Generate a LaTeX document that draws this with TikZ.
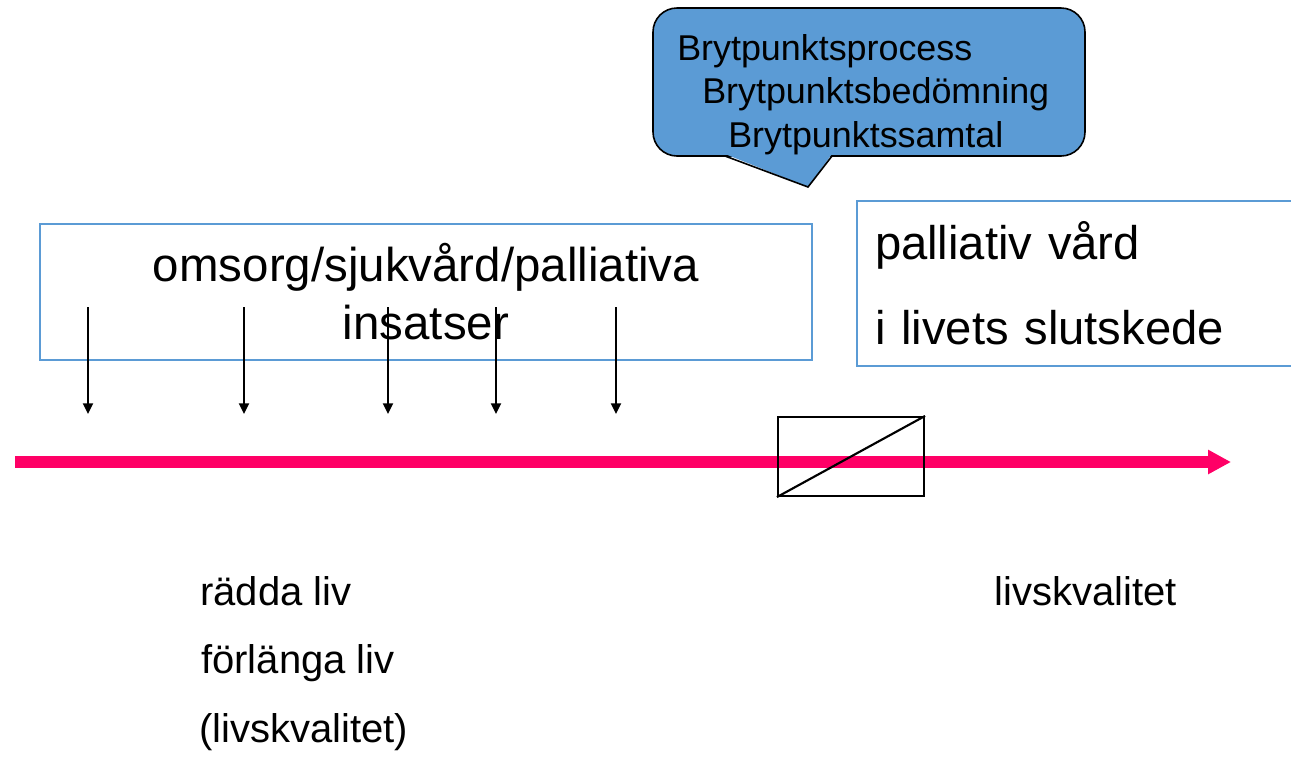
\documentclass[tikz,border=0pt]{standalone}
\usepackage{fontspec}
\setmainfont{Liberation Sans}
\usetikzlibrary{arrows.meta, positioning}
\definecolor{bpblue}{RGB}{91,155,213}
\definecolor{linjerosa}{RGB}{255,0,102}

\begin{document}
\begin{tikzpicture}[x=0.75pt, y=-0.75pt, >={Triangle[length=8pt, width=7.5pt]},
    ram/.style={draw=bpblue, line width=1.5pt, inner sep=0pt},
    pil/.style={->, line width=1.5pt},
    bptext/.style={anchor=base west, inner sep=0pt, font=\fontsize{26.9}{32}\selectfont},
    etikett/.style={anchor=base west, inner sep=0pt, font=\fontsize{30}{36}\selectfont}]
    \useasboundingbox (0,0) rectangle (1291,758);

    % pratbubbla
    \draw[fill=bpblue, line width=1.2pt, rounded corners=18pt] (653,8) rectangle (1085,156);
    \fill[bpblue] (725,154) -- (808,187) -- (832,154) -- cycle;
    \draw[line width=1.2pt, line join=miter] (725,156) -- (808,187) -- (832,156);
    \node[bptext] (process) at (677,60) {Brytpunktsprocess};
    \node[bptext] (bedomning) at (702,103.5) {Brytpunktsbedömning};
    \node[bptext] (samtal) at (728,147) {Brytpunktssamtal};

    % rutorna
    \node[ram, minimum width=579pt, minimum height=102pt, align=center,
          font=\fontsize{35.6}{43.5}\selectfont] (omsorg) at (426,292)
          {omsorg/sjukvård/palliativa\\insatser};
    \node[ram, anchor=west, minimum height=123.75pt, text width=318pt, align=left,
          inner xsep=13.5pt, font=\fontsize{35.4}{63.75}\selectfont] (slutskede) at (856,283.5)
          {palliativ vård\\i livets slutskede};

    % insatserna
    \foreach \x [count=\i] in {88,244,388,496,616} {
        \coordinate (start\i) at (\x,307);
        \coordinate (mal\i) at (\x,414);
        \draw[pil] (start\i) -- (mal\i);
    }

    % tidslinjen
    \coordinate (tstart) at (15,462);
    \coordinate (tslut) at (1231,462);
    \draw[-{Triangle[length=17.25pt, width=17.25pt]}, linjerosa, line width=9pt] (tstart) -- (tslut);
    \node[draw, line width=1.6pt, minimum width=109.5pt, minimum height=59.25pt, inner sep=0pt] (brytpunkt) at (851,456.5) {};
    \draw[line width=1.6pt] (brytpunkt.south west) -- (brytpunkt.north east);

    % texterna under
    \node[etikett] (radda) at (200,605) {rädda liv};
    \node[etikett] (forlanga) at (201,673) {förlänga liv};
    \node[etikett] (kvalitet) at (199,742) {(livskvalitet)};
    \node[etikett] (livskvalitet) at (994,605) {livskvalitet};
\end{tikzpicture}
\end{document}
